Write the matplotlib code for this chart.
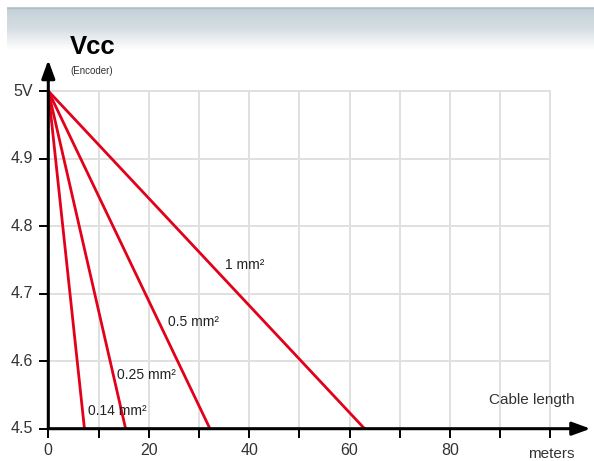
import numpy as np
import matplotlib
matplotlib.use("Agg")
import matplotlib.pyplot as plt
from matplotlib.colors import LinearSegmentedColormap

plt.rcParams['font.family'] = ['Liberation Sans', 'DejaVu Sans']

# Data
sections = ["0.14 mm²", "0.25 mm²", "0.5 mm²", "1 mm²"]
start_v = [5.0, 5.0, 5.0, 5.0]
end_len = [7.2, 15.4, 32.2, 63.0]   # meters where Vcc drops to 4.5 V
end_v = [4.5, 4.5, 4.5, 4.5]
label_pos_x = [8.0, 13.6, 23.8, 35.2]
label_pos_y = [4.526, 4.58, 4.658, 4.742]
x_ticks = [0, 20, 40, 60, 80]
y_ticks = [4.5, 4.6, 4.7, 4.8, 4.9, 5.0]
y_tick_labels = ["4.5", "4.6", "4.7", "4.8", "4.9", "5V"]

W, H = 594, 461
fig = plt.figure(figsize=(W / 100, H / 100), dpi=100)
fig.patch.set_facecolor("white")

# Header gradient band
hdr = fig.add_axes([7 / W, 1 - 50 / H, 1 - 7 / W, 43 / H])
hdr.set_axis_off()
cmap = LinearSegmentedColormap.from_list("hdr", ["#c3d0d8", "#d6dee4", "#ffffff"])
grad = np.linspace(0, 1, 256).reshape(-1, 1)
hdr.imshow(grad, aspect="auto", cmap=cmap, extent=[0, 1, 0, 1], origin="upper")
hdr.axhline(0.985, color="#b4bec6", lw=1.0)
hdr.set_xlim(0, 1)
hdr.set_ylim(0, 1)

# Main axes
x0px, x1px = 48.3, 590.5
ybot, ytop = 428.7, 60.0
ax = fig.add_axes([x0px / W, 1 - ybot / H, (x1px - x0px) / W, (ybot - ytop) / H])
ax.set_xlim(0, 108)
ax.set_ylim(4.5, 4.5 + (ybot - ytop) / 675.4)
for s in ax.spines.values():
    s.set_visible(False)
ax.set_xticks([])
ax.set_yticks([])
ax.patch.set_alpha(0)

grid_c = "#e0e0e0"
for gx in range(10, 101, 10):
    ax.plot([gx, gx], [4.5, 5.0], color=grid_c, lw=1.4, zorder=1, clip_on=False)
for gy in y_ticks[1:]:
    ax.plot([0, 100], [gy, gy], color=grid_c, lw=1.4, zorder=1, clip_on=False)

# Curves
for lx, sv, ev in zip(end_len, start_v, end_v):
    ax.plot([0, lx], [sv, ev], color="#e2001a", lw=2.0, zorder=3, solid_capstyle="butt")

for name, tx, ty in zip(sections, label_pos_x, label_pos_y):
    ax.text(tx, ty, name, fontsize=10, color="#222222", ha="left", va="center", zorder=4)

# Axis arrows
ax.annotate("", xy=(108, 4.5), xytext=(0, 4.5),
            arrowprops=dict(arrowstyle="-|>,head_length=1.1,head_width=0.4", color="black", lw=2.2,
                            shrinkA=0, shrinkB=0), annotation_clip=False, zorder=5)
ax.annotate("", xy=(0, ax.get_ylim()[1]), xytext=(0, 4.5),
            arrowprops=dict(arrowstyle="-|>,head_length=1.1,head_width=0.4", color="black", lw=2.2,
                            shrinkA=0, shrinkB=0), annotation_clip=False, zorder=5)

# Ticks
tick_dy = 8 / 675.4
for gy, lab in zip(y_ticks, y_tick_labels):
    ax.plot([-1.6, 0], [gy, gy], color="black", lw=1.4, clip_on=False, zorder=5)
    ax.text(-3.0, gy, lab, ha="right", va="center", fontsize=11.5, color="#333333")
for gx in range(0, 101, 10):
    ax.plot([gx, gx], [4.5, 4.5 - tick_dy], color="black", lw=1.4, clip_on=False, zorder=5)
for gx in x_ticks:
    ax.text(gx, 4.5 - 0.033, str(gx), ha="center", va="center", fontsize=11.5, color="#333333")

ax.text(104.8, 4.543, "Cable length", ha="right", va="center", fontsize=11, color="#333333")
ax.text(104.8, 4.462, "meters", ha="right", va="center", fontsize=11, color="#333333")

fig.text(70 / W, 1 - 47 / H, "Vcc", fontsize=18.5, fontweight="bold", ha="left", va="center", color="black")
fig.text(70 / W, 1 - 71 / H, "(Encoder)", fontsize=7, ha="left", va="center", color="#333333")

fig.savefig("out.png", dpi=100)
